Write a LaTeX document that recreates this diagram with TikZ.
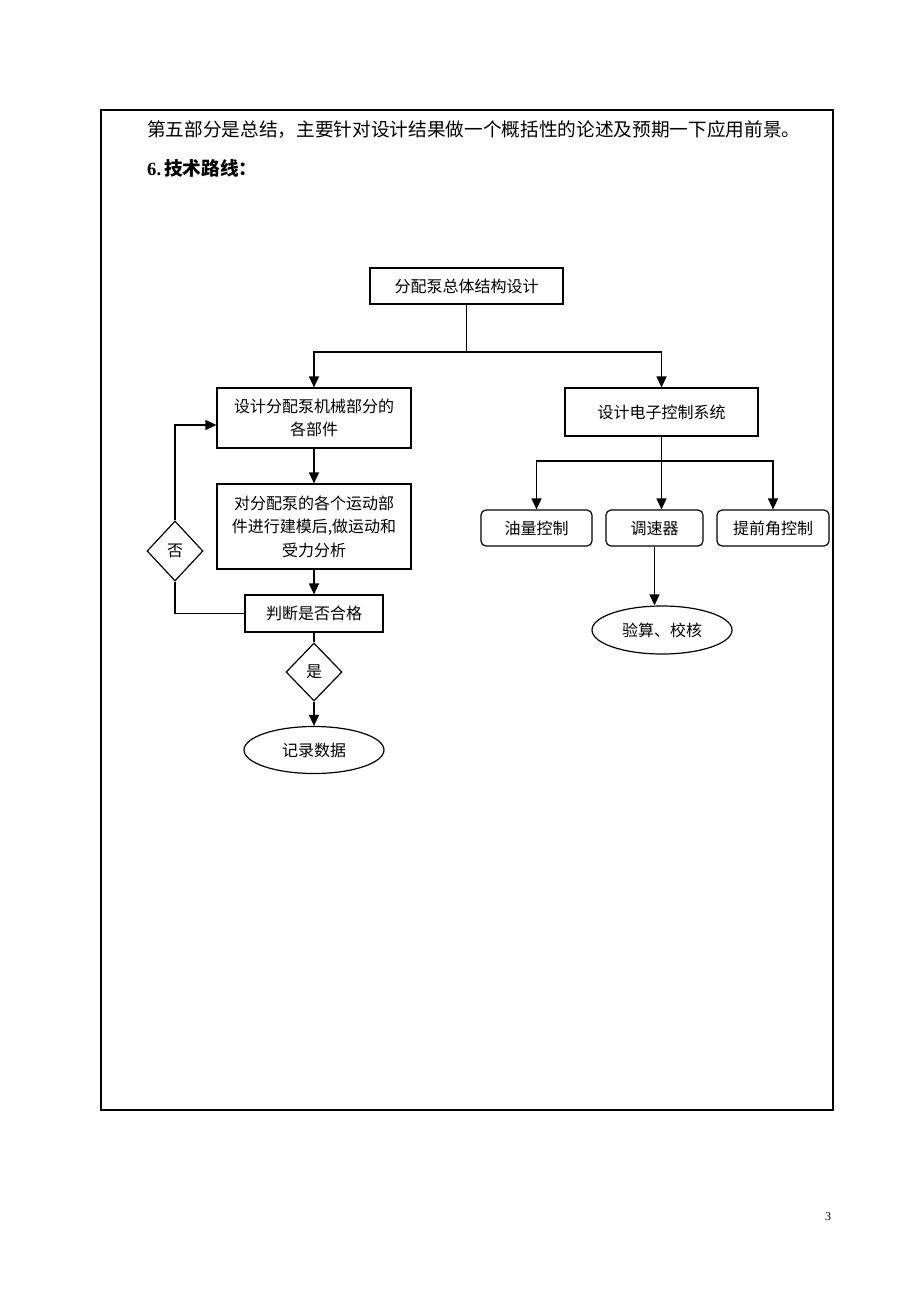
\documentclass[tikz,border=0pt]{standalone}
\usepackage{fontspec}
\setmainfont{Liberation Serif}
\newfontfamily\cjk{Noto Sans CJK SC}
\usetikzlibrary{arrows.meta,shapes.geometric}
\begin{document}
\begin{tikzpicture}[x=1pt,y=-1pt,
  base/.style={draw,line width=1.2pt,inner sep=0pt,align=center,font=\cjk\fontsize{16}{23.5}\selectfont},
  box/.style={base,rectangle},
  rbox/.style={base,rectangle,rounded corners=5pt},
  oval/.style={base,ellipse},
  dia/.style={base,diamond},
  con/.style={line width=1.2pt},
  arr/.style={con,-{Triangle[length=11pt,width=10pt]}}
]
\useasboundingbox (0,0) rectangle (920,1302);
\fill[white] (0,0) rectangle (920,1302);
% frame
\draw[line width=2.4pt] (101,110) rectangle (833,1110);
\node[anchor=west,inner sep=0pt,font=\cjk\fontsize{18.67}{24}\selectfont] (t1) at (147,130)
  {第五部分是总结，主要针对设计结果做一个概括性的论述及预期一下应用前景。};
\node[anchor=west,inner sep=0pt] (t2) at (147,168)
  {\fontsize{18.67}{24}\selectfont\bfseries 6.\kern3pt{\cjk\bfseries 技术路线：}};
\node[inner sep=0pt,font=\fontsize{12}{14}\selectfont] (pg) at (828,1217) {3};

% nodes
\node[box,minimum width=193pt,minimum height=36pt] (top) at (466.5,286) {分配泵总体结构设计};
\node[box,minimum width=194pt,minimum height=60pt] (b1) at (314,418) {设计分配泵机械部分的\\各部件};
\node[box,minimum width=193pt,minimum height=48pt] (rb) at (661.5,412) {设计电子控制系统};
\node[rbox,minimum width=111pt,minimum height=36pt] (r1) at (536.5,528) {油量控制};
\node[rbox,minimum width=97pt,minimum height=36pt] (r2) at (654.5,528) {调速器};
\node[rbox,minimum width=112pt,minimum height=36pt] (r3) at (773,528) {提前角控制};
\node[oval,minimum width=140pt,minimum height=48pt] (e2) at (662,630) {验算、校核};
\node[box,minimum width=194pt,minimum height=85pt] (b2) at (314,526.5) {对分配泵的各个运动部\\件进行建模后,做运动和\\受力分析};
\node[box,minimum width=138pt,minimum height=37pt] (b3) at (314,613.5) {判断是否合格};
\node[dia,minimum width=56pt,minimum height=60pt] (no) at (175,551) {否};
\node[dia,minimum width=56pt,minimum height=58pt] (yes) at (314,672) {是};
\node[oval,minimum width=140pt,minimum height=47pt] (e1) at (314,750) {记录数据};

% junctions
\coordinate (j1) at (466.5,352);
\coordinate (j2) at (661.5,461);
\coordinate (lp) at (175,425);

% connectors
\draw[con] (top.south) -- (j1);
\draw[arr] (j1) -| (b1.north);
\draw[arr] (j1) -| (rb.north);
\draw[arr] (rb.south) -- (rb.south |- r2.north);
\draw[arr] (j2) -| (r1.north);
\draw[arr] (j2) -| (r3.north);
\draw[arr] (r2.south) -- (r2.south |- e2.north);
\draw[arr] (b1.south) -- (b2.north);
\draw[arr] (b2.south) -- (b3.north);
\draw[con] (b3.south) -- (yes.north);
\draw[arr] (yes.south) -- (e1.north);
\draw[con] (b3.west) -| (no.south);
\draw[arr] (no.north) -- (lp) -- (lp -| b1.west);
\end{tikzpicture}
\end{document}
